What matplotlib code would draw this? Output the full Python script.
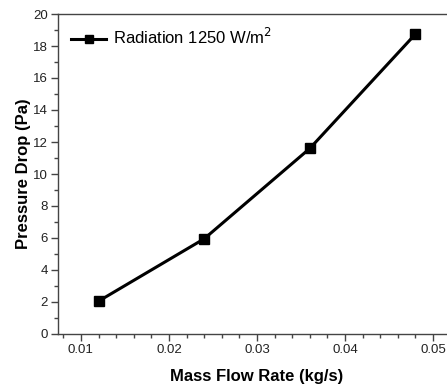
import matplotlib
matplotlib.use("Agg")
import matplotlib.pyplot as plt
from matplotlib.ticker import MultipleLocator

plt.rcParams['font.family'] = ['Liberation Sans', 'DejaVu Sans']

mass_flow = [0.012, 0.024, 0.036, 0.048]
pressure_drop = [2.05, 5.95, 11.6, 18.75]
series_label = "Radiation 1250 W/m$^2$"

fig = plt.figure(figsize=(4.47, 3.88), dpi=100)
ax = fig.add_axes([58/447, 54/388, 398/447, 320/388])

ax.plot(mass_flow, pressure_drop, color='black', lw=2.2, marker='s',
        markersize=7.3, label=series_label)

ax.set_xlim(0.0074, 0.0526)
ax.set_ylim(0, 20)
ax.xaxis.set_major_locator(MultipleLocator(0.01))
ax.xaxis.set_minor_locator(MultipleLocator(0.002))
ax.yaxis.set_major_locator(MultipleLocator(2))
ax.yaxis.set_minor_locator(MultipleLocator(1))
ax.xaxis.set_major_formatter(plt.FuncFormatter(lambda v, p: f"{v:.2f}"))

for s in ax.spines.values():
    s.set_color('#444444')
    s.set_linewidth(1.0)
ax.tick_params(which='major', direction='out', length=5, width=1, colors='#444444',
               labelcolor='#222222', labelsize=9.5, pad=2.5)
ax.tick_params(which='minor', direction='out', length=3, width=1, colors='#444444')

ax.set_xlabel("Mass Flow Rate (kg/s)", fontsize=12, fontweight='bold', labelpad=9)
ax.set_ylabel("Pressure Drop (Pa)", fontsize=12, fontweight='bold', labelpad=1.5)

leg = ax.legend(loc='upper left', frameon=False, fontsize=12, handlelength=2.1,
                handletextpad=0.4, markerscale=0.7, borderaxespad=0.4)

fig.savefig("out.png", dpi=100)
